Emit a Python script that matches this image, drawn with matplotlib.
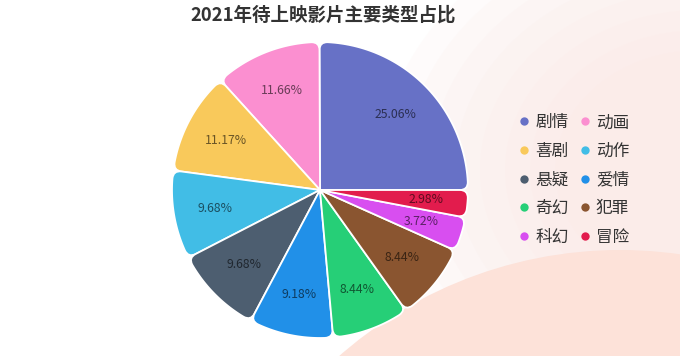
import matplotlib
matplotlib.use("Agg")
import matplotlib.pyplot as plt
import numpy as np
from matplotlib.path import Path
from matplotlib.patches import PathPatch, Ellipse
from matplotlib.lines import Line2D
from matplotlib.colors import to_rgb

plt.rcParams['font.family'] = ['Noto Sans CJK SC', 'DejaVu Sans']

title = "2021年待上映影片主要类型占比"
categories = ["剧情", "动画", "喜剧", "动作", "悬疑", "爱情", "奇幻", "犯罪", "科幻", "冒险"]
values = [25.06, 11.66, 11.17, 9.68, 9.68, 9.18, 8.44, 8.44, 3.72, 2.98]
colors = ["#6771c6", "#fb8fd0", "#f9c95b", "#41bde6", "#4d5e70",
          "#2190e8", "#26cf77", "#8a5530", "#d84ef0", "#e21c4d"]

W, H = 680, 356
fig = plt.figure(figsize=(W / 100, H / 100), dpi=100)
fig.patch.set_facecolor("white")

# decorative background
bg = fig.add_axes([0, 0, 1, 1])
bg.set_xlim(0, W)
bg.set_ylim(H, 0)
bg.axis("off")
for k, a in enumerate(np.linspace(0.15, 1.0, 8)):
    bg.add_patch(Ellipse((700, 170), 640 - 50 * k, 520 - 40 * k,
                         facecolor="#fbe6e1", alpha=0.12, edgecolor="none"))
bg.add_patch(Ellipse((620, 675), 850, 850, facecolor="#fde2d9", edgecolor="none"))

# pie axes: center (320,190) px, radius ~148 px
cx, cy, R = 320, 190, 148
half = 160
ax = fig.add_axes([(cx - half) / W, (H - cy - half) / H, 2 * half / W, 2 * half / H])
ax.axis("off")

wedges, _, autotexts = ax.pie(values, colors=colors, startangle=0, counterclock=True,
                              radius=1.0, autopct="%.2f%%", pctdistance=0.72,
                              wedgeprops=dict(edgecolor="white", linewidth=1.2))
ax.set_xlim(-half / R, half / R)
ax.set_ylim(-half / R, half / R)
ax.set_aspect("equal")

corner = 0.055
for w, col in zip(wedges, colors):
    t1, t2 = np.deg2rad(w.theta1), np.deg2rad(w.theta2)
    r = w.r
    x0, y0 = w.center
    dt = corner / r
    verts = [(x0, y0)]
    codes = [Path.MOVETO]
    verts.append((x0 + (r - corner) * np.cos(t1), y0 + (r - corner) * np.sin(t1)))
    codes.append(Path.LINETO)
    verts += [(x0 + r * np.cos(t1), y0 + r * np.sin(t1)),
              (x0 + r * np.cos(t1 + dt), y0 + r * np.sin(t1 + dt))]
    codes += [Path.CURVE3, Path.CURVE3]
    for t in np.linspace(t1 + dt, t2 - dt, 60)[1:]:
        verts.append((x0 + r * np.cos(t), y0 + r * np.sin(t)))
        codes.append(Path.LINETO)
    verts += [(x0 + r * np.cos(t2), y0 + r * np.sin(t2)),
              (x0 + (r - corner) * np.cos(t2), y0 + (r - corner) * np.sin(t2))]
    codes += [Path.CURVE3, Path.CURVE3]
    verts.append((x0, y0))
    codes.append(Path.CLOSEPOLY)
    ax.add_patch(PathPatch(Path(verts, codes), facecolor=col, edgecolor="white",
                           linewidth=1.3, joinstyle="round"))
    w.set_visible(False)

for t, v, col in zip(autotexts, values, colors):
    dark = tuple(c * 0.42 for c in to_rgb(col))
    t.set_text(f"{v:.2f}%")
    t.set_color(dark)
    t.set_fontsize(8.8)
    t.set_zorder(5)

fig.text(323 / W, 1 - 15 / H, title, ha="center", va="center",
         fontsize=13.3, fontweight="bold", color="#333333")

order = [0, 2, 4, 6, 8, 1, 3, 5, 7, 9]
handles = [Line2D([], [], marker="o", linestyle="none", markersize=6,
                  markerfacecolor=colors[i], markeredgecolor="none") for i in order]
labels = [categories[i] for i in order]
fig.legend(handles, labels, ncol=2, loc="upper left",
           bbox_to_anchor=(511 / W, 1 - 106 / H), frameon=False,
           fontsize=12, handlelength=0.6, handletextpad=0.35,
           columnspacing=0.7, labelspacing=0.7, borderpad=0, labelcolor="#333333")

fig.savefig("out.png", dpi=100, facecolor=fig.get_facecolor())
